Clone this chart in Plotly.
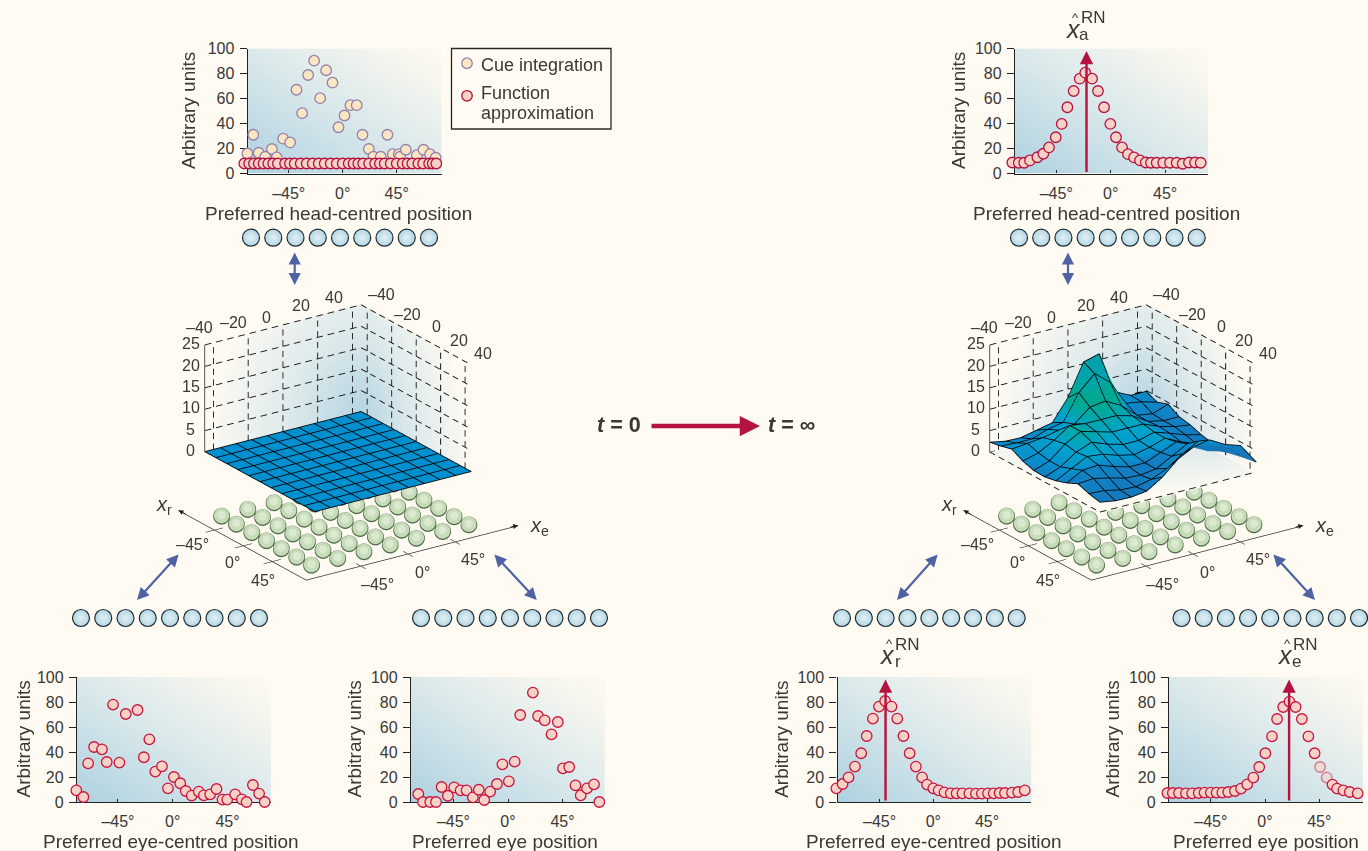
import numpy as np
import plotly.graph_objects as go

W, H = 1368, 851
BG = "#fffbf3"
INK = "#3a3836"
FONT = "Liberation Sans, Arial, sans-serif"
RED = "#b5123f"
PINK = "#f6d2c6"
CUE_FILL = "#fbe6c4"
CUE_LINE = "#9580ab"
BLUE_ARROW = "#4d63a3"

# ---------- panel data (degrees, arbitrary units) ----------
cue_x = [-79.5,-74.5,-70,-64.5,-59,-55,-49.6,-43.8,-38.5,-33.8,-28.8,-23.8,-18.8,-13.8,-8.5,-3.5,1.5,6.5,11.7,16.5,21.8,25.6,31.7,37.3,41.7,46.7,47.8,52.6,61.8,67.3,72.8,77.5]
cue_y = [16,31,16.6,13.4,19.6,12.9,27.9,24.9,67,48.3,78.8,90.3,60.3,82.6,72.7,37,46.4,54.7,54.7,31,19.6,13.4,13.4,31,15.5,15.5,13.4,19,14.7,19,15.5,12.6]
flat_x = [-82,-78,-74,-70,-66,-62,-58,-54,-48,-44,-40,-35,-30,-25,-20,-15,-10,-5,0,5,9,13,17,22,27,31,35,40,45,50,54,58,63,67,72,75,78]
flat_y = [8]*37
top_fa_x = [-81.3,-76,-71.5,-66.7,-60.6,-55.7,-51,-45.4,-40.5,-35.8,-30.6,-25.6,-21,-15.4,-10.5,-5.5,-0.3,4.4,9.4,14.3,19.3,24.2,29,33.3,38,43.4,49,54.5,59.5,64.7,69.7,74.4]
top_fa_y = [8.8,8.6,8.6,10.5,13,15.8,20.9,29,39.7,53,66,75.9,80.7,75.9,66,53,39.7,29,20.9,15.5,12.9,10.5,8.8,8.6,8.6,8.6,8.6,8.6,7.8,8.8,8.8,8.6]
retina_x = [-79.2,-73.4,-69.5,-64.6,-58.1,-54.2,-49,-43.8,-38.6,-28.9,-23.7,-19.2,-14.3,-8.8,-3.9,1,6.2,10.7,15.6,21.4,25.6,30.8,36,40.9,44.8,51.3,56.8,60.7,65.9,71,75.6]
retina_y = [9.3,4,30.9,44,42.1,32,77.9,31.5,70.4,73.6,35.8,50.1,24.3,28.5,10.9,20,15,8.8,5.1,8.3,5.3,6.1,10.4,1.9,1.9,6.1,2.1,0,13.6,6.7,0]
eye_x = [-74,-70.1,-64.2,-59.4,-54.8,-49.6,-44.4,-39.1,-34.2,-29,-24.1,-19.6,-14.7,-9.1,-4.6,0.7,5.5,10.1,20.5,24.8,30.3,35.9,41.1,45.3,50.5,55.7,60,65.2,71,75.3]
eye_y = [6.4,0,0,0,12,5,11.7,9.3,9.3,3.7,9.8,1.6,8.3,14.4,30.1,16.5,32.3,69.6,87.5,68.8,65.3,54.1,64,26.9,28,13.3,5.3,10.9,14.1,0]
ret_fa_x = [-81.2,-76,-71,-65.6,-60.4,-55.8,-50.6,-45.5,-40.3,-35,-30.2,-25,-19.8,-14.6,-9.4,-5.2,0,4.5,9.4,14.6,19.5,24.4,30.2,35.7,40.6,45.8,50.6,55.5,60,65.9,71.1,76.6]
ret_fa_y = [10.9,14.4,19.7,28.3,39,52.8,66.7,76.3,80.8,76.3,66.7,52.8,39,28.3,19.7,13.9,10.9,9.3,7.7,6.9,6.9,6.9,6.9,6.7,6.7,6.9,6.9,7.2,7.2,7.5,8,9.3]
eye_fa_x = [-81,-76.5,-71.4,-65.6,-60.5,-55,-50.2,-45,-40.2,-35.4,-30.5,-25,-19.9,-14.8,-9.7,-4.8,0.3,5.8,10,15.1,20.3,25.4,30.6,36,41.2,45.7,51.2,56,59.8,65,70.4,76.9]
eye_fa_y = [7.2,7.2,7.2,6.9,6.9,7.2,7.5,7.5,7.5,7.5,8,8.8,10.7,14.1,19.5,28,39,52.5,66.4,76,80.3,76,66.4,52.5,39,28,19.5,13.9,10.7,9.3,8,6.9]

x_ticks = [-45, 0, 45]
x_labels = ["–45°", "0°", "45°"]
y_ticks = [0, 20, 40, 60, 80, 100]

# ---------- surface data: rows = x_r, columns = x_e ----------
mesh_axis = [-45,-36,-27,-18,-9,0,9,18,27,36,45]
flat_surface = [[0.0]*11 for _ in range(11)]
learned_surface = [
 [2.2,1.5,1.4,2.2,3.0,7.9,15.3,16.3,6.5,4.7,4.7],
 [2.7,2.5,2.5,3.8,4.5,10.5,14.0,11.0,5.2,4.6,3.6],
 [3.4,3.8,4.2,5.0,5.5,8.5,9.0,7.0,3.8,3.2,4.5],
 [2.0,3.0,5.0,7.5,7.0,7.0,7.0,6.0,3.8,3.0,3.0],
 [1.2,2.5,5.5,7.5,6.5,5.5,5.5,5.5,4.0,3.0,2.5],
 [1.1,2.5,5.0,6.4,5.0,4.0,4.0,5.0,3.8,2.5,1.6],
 [1.6,3.5,5.4,5.0,3.8,3.0,3.8,5.0,3.2,1.8,1.0],
 [2.5,4.5,4.8,3.5,2.5,2.5,4.0,5.5,3.5,1.6,0.6],
 [3.7,4.0,3.2,2.2,2.0,2.5,4.5,6.5,5.0,3.5,1.2],
 [2.8,2.6,1.8,1.6,2.4,4.0,6.5,8.5,6.5,5.0,1.8],
 [2.2,1.6,1.5,2.0,4.3,7.6,9.5,10.2,8.2,7.0,2.2],
]
wall_ticks = [-40,-20,0,20,40]
z_ticks = [0,5,10,15,20,25]
dot_xr = [-70,-47,-23,0,23,47,70]
dot_xe = [-75,-50,-25,0,25,50,75]
neurons = list(range(9))
legend_rows = [1, 0]

# ---------- helpers ----------
def fx(px): return px / W
def fy(py): return 1 - py / H

fig = go.Figure()
layout = dict(
    width=W, height=H, margin=dict(l=0, r=0, t=0, b=0, pad=0, autoexpand=False), autosize=False,
    paper_bgcolor=BG, plot_bgcolor="rgba(0,0,0,0)", font=dict(family=FONT, color=INK, size=16),
    showlegend=False, hovermode=False,
)
annotations = []
shapes = []
next_axis = [1]
overlay = {}

def note(px, py, text, size=16.5, angle=0, xanchor="center"):
    annotations.append(dict(xref="paper", yref="paper", x=fx(px), y=fy(py), text=text, showarrow=False,
                            textangle=angle, font=dict(size=size, color=INK), xanchor=xanchor, yanchor="middle"))

def new_axes(box, xr, yr, visible=True):
    n = next_axis[0]; next_axis[0] += 1
    l, r, t, b = box
    common = dict(showgrid=False, zeroline=False, fixedrange=True)
    layout[f"xaxis{n}"] = dict(domain=[fx(l), fx(r)], range=xr, anchor=f"y{n}", visible=visible, **common)
    layout[f"yaxis{n}"] = dict(domain=[fy(b), fy(t)], range=yr, anchor=f"x{n}", visible=visible, **common)
    return n

def panel(box, zero_px, deg_px, xtitle, xtitle_px, ytitle_px, bottom_title_py):
    l, r, t, b = box
    xr = [(l - zero_px) / deg_px, (r - zero_px) / deg_px]
    n = new_axes(box, xr, [0, 100])
    layout[f"xaxis{n}"].update(tickmode="array", tickvals=x_ticks, ticktext=x_labels, ticks="inside", ticklen=3,
                               tickwidth=1, tickcolor="#222", showline=True, linecolor="#222", linewidth=1.3,
                               tickfont=dict(size=16, color=INK), layer="above traces", ticklabelstandoff=5)
    layout[f"yaxis{n}"].update(tickmode="array", tickvals=y_ticks, ticks="outside", ticklen=7, tickwidth=1,
                               tickcolor="#222", showline=True, linecolor="#222", linewidth=1.3,
                               tickfont=dict(size=16, color=INK), layer="above traces", ticklabelstandoff=2)
    gx = np.linspace(xr[0], xr[1], 25)
    gy = np.linspace(0, 100, 25)
    u, v = np.meshgrid((gx - xr[0]) / (xr[1] - xr[0]), gy / 100)
    fig.add_trace(go.Heatmap(x=gx, y=gy, z=(u + v) / 2, zmin=0, zmax=1, zsmooth="best", showscale=False,
                             hoverinfo="skip", xaxis=f"x{n}", yaxis=f"y{n}", showlegend=False,
                             colorscale=[[0, "#aed1e0"], [0.5, "#dbe9eb"], [0.85, "#f6f6ee"], [1, "#fdfaf2"]]))
    note(xtitle_px, bottom_title_py, xtitle, size=19)
    note(ytitle_px, (t + b) / 2, "Arbitrary units", size=19, angle=-90)
    # same scale, slightly wider hidden axes so markers on the frame edge are kept
    pad = 4.0
    per_y = 100 / (b - t)
    overlay[n] = new_axes((l - pad, r + pad, t - pad, b + pad),
                          [xr[0] - pad / deg_px, xr[1] + pad / deg_px],
                          [-pad * per_y, 100 + pad * per_y], visible=False)
    return n

def points(n, xs, ys, fill, line, name=None, opacity=None):
    a = overlay.get(n, n)
    fig.add_trace(go.Scatter(x=xs, y=ys, mode="markers", xaxis=f"x{a}", yaxis=f"y{a}", name=name or "",
                             showlegend=False, cliponaxis=False, hoverinfo="skip",
                             marker=dict(size=10.5, color=fill, opacity=opacity if opacity else 1,
                                         line=dict(color=line, width=1.3))))

def rise_arrow(n, xval):
    annotations.append(dict(xref=f"x{n}", yref=f"y{n}", axref=f"x{n}", ayref=f"y{n}", x=xval, y=98, ax=xval, ay=0,
                            text="", showarrow=True, arrowhead=2, arrowsize=1.1, arrowwidth=2.4, arrowcolor=RED))

def hat_label(px, py, sub, sub_dy):
    note(px, py, "<i>x</i>", size=25)
    note(px + 2, py - 12, "^", size=13)
    note(px + 11, py + sub_dy, sub, size=17)
    note(px + 20, py - 11, "RN", size=17)

def neuron_row(x0, x8, y):
    step = (x8 - x0) / 8
    pad = 8.5
    n = new_axes((x0 - pad, x8 + pad, y - 12, y + 12), [-pad / step, 8 + pad / step], [-1, 1], visible=False)
    fig.add_trace(go.Scatter(x=neurons, y=[0] * 9, mode="markers", xaxis=f"x{n}", yaxis=f"y{n}", showlegend=False,
                             hoverinfo="skip", cliponaxis=False,
                             marker=dict(size=17, color="#b3d6e5", gradient=dict(type="radial", color="#e2f0f3"),
                                         line=dict(color="#1f2a30", width=1.2))))

def double_arrow(x1, y1, x2, y2):
    annotations.append(dict(xref="paper", yref="paper", x=fx(x2), y=fy(y2),
                            ax=x1 - x2, ay=y1 - y2, text="", showarrow=True, arrowhead=2, startarrowhead=2,
                            arrowside="end+start", arrowsize=1.1, startarrowsize=1.1, arrowwidth=2.2,
                            arrowcolor=BLUE_ARROW))

# ---------- the 3D blocks ----------
SPAN = 45
AX_RANGE = 100
Z_RANGE = 40
EYE_R = 2.0
ZOOM = 2.24
EYE = np.array([0.7645, -0.5247, 0.374])
KX, KY, OX, OY, PLANE_Z = 0.525, 0.604, 17.0, -7.9, -10.0
XR_AXIS = (98, -101)
XE_AXIS = (-97, 105)
COLD = [[0, "#b7d5e2"], [0.45, "#dce9eb"], [1, "#fdfaf2"]]

def dash_run(xs, ys, zs, p, q, n):
    """Break the straight run p->q into n short strokes."""
    for k in range(n):
        a = k / n
        b = (k + 0.58) / n
        for c, arr in zip(range(3), (xs, ys, zs)):
            arr += [p[c] + (q[c] - p[c]) * a, p[c] + (q[c] - p[c]) * b, None]

def dashed(scene, xs, ys, zs, color="#111111"):
    fig.add_trace(go.Scatter3d(x=xs, y=ys, z=zs, mode="lines", scene=scene, showlegend=False, hoverinfo="skip",
                               line=dict(color=color, width=1.8)))

def block(scene, surface, tone, cscale, cmin, cmax, box, with_floor):
    l, r, t, b = box
    layout[scene] = dict(
        domain=dict(x=[fx(l), fx(r)], y=[fy(b), fy(t)]), bgcolor="rgba(0,0,0,0)",
        xaxis=dict(visible=False, range=[-AX_RANGE, AX_RANGE]),
        yaxis=dict(visible=False, range=[-AX_RANGE, AX_RANGE]),
        zaxis=dict(visible=False, range=[-Z_RANGE, Z_RANGE]),
        aspectmode="manual", aspectratio=dict(x=1.17 * ZOOM, y=1.14 * ZOOM, z=1.0 * ZOOM),
        camera=dict(eye=dict(x=EYE[0] * EYE_R, y=EYE[1] * EYE_R, z=EYE[2] * EYE_R), center=dict(x=0, y=0, z=0),
                    up=dict(x=0, y=0, z=1), projection=dict(type="orthographic")),
        dragmode=False,
    )
    # walls
    s = np.linspace(-SPAN, SPAN + 0.7, 31)
    s2 = np.linspace(-SPAN - 0.7, SPAN, 31)
    h = np.linspace(0, 25, 15)
    S, Z = np.meshgrid(s, h)
    S2, Z2 = np.meshgrid(s2, h)
    shade1 = np.sqrt(((SPAN - S) / 90) ** 2 + (Z / 25) ** 2 * 0.35)
    shade2 = np.sqrt(((S2 + SPAN) / 90) ** 2 + (Z2 / 25) ** 2 * 0.35)
    flat = dict(ambient=1, diffuse=0, specular=0, roughness=1, fresnel=0)
    off = dict(x=dict(highlight=False), y=dict(highlight=False), z=dict(highlight=False))
    fig.add_trace(go.Surface(x=np.full_like(S, -SPAN - 0.6), y=S, z=Z, surfacecolor=shade1, cmin=0, cmax=1, colorscale=COLD,
                             showscale=False, hoverinfo="skip", scene=scene, lighting=flat, contours=off))
    fig.add_trace(go.Surface(x=S2, y=np.full_like(S2, SPAN + 0.6), z=Z2, surfacecolor=shade2, cmin=0, cmax=1, colorscale=COLD,
                             showscale=False, hoverinfo="skip", scene=scene, lighting=flat, contours=off))
    if with_floor:
        fl = np.linspace(-SPAN, SPAN, 31)
        FX, FY = np.meshgrid(fl, fl)
        shade3 = np.sqrt(((FX + SPAN) / 90) ** 2 + ((SPAN - FY) / 90) ** 2) * 0.9
        fig.add_trace(go.Surface(x=FX, y=FY, z=np.full_like(FX, -0.3), surfacecolor=shade3, cmin=0, cmax=1, colorscale=COLD,
                                 showscale=False, hoverinfo="skip", scene=scene, lighting=flat, contours=off))
    # dashed wall grid
    xs, ys, zs = [], [], []
    for t_ in wall_ticks:
        dash_run(xs, ys, zs, (-SPAN, t_, 0), (-SPAN, t_, 25), 10)
        dash_run(xs, ys, zs, (t_, SPAN, 0), (t_, SPAN, 25), 10)
    for zv in z_ticks[1:]:
        dash_run(xs, ys, zs, (-SPAN, -SPAN, zv), (-SPAN, SPAN, zv), 14)
        dash_run(xs, ys, zs, (-SPAN, SPAN, zv), (SPAN, SPAN, zv), 12)
    if with_floor:
        dash_run(xs, ys, zs, (-SPAN, -SPAN, 0), (SPAN, -SPAN, 0), 12)
        dash_run(xs, ys, zs, (SPAN, -SPAN, 0), (SPAN, SPAN, 0), 14)
    dashed(scene, xs, ys, zs)
    # z axis
    fig.add_trace(go.Scatter3d(x=[-SPAN, -SPAN], y=[-SPAN, -SPAN], z=[0, 25], mode="lines", scene=scene, showlegend=False,
                               hoverinfo="skip", line=dict(color="#222", width=1.6)))
    tx, ty, tz = [], [], []
    for zv in z_ticks:
        tx += [-SPAN, -SPAN, None]; ty += [-SPAN, -SPAN + 3, None]; tz += [zv, zv, None]
    fig.add_trace(go.Scatter3d(x=tx, y=ty, z=tz, mode="lines", scene=scene, showlegend=False, hoverinfo="skip",
                               line=dict(color="#222", width=1.2)))
    # surface (plotly wants rows along y, so x_r rows are transposed)
    fig.add_trace(go.Surface(x=mesh_axis, y=mesh_axis, z=np.array(surface).T, surfacecolor=np.array(tone).T,
                             cmin=cmin, cmax=cmax,
                             colorscale=cscale, showscale=False, hoverinfo="skip", scene=scene, lighting=flat,
                             contours=off))
    # crisp black mesh, following the same surface values
    zgrid = np.array(surface, dtype=float) + 0.1
    mx, my, mz = [], [], []
    for i, xv in enumerate(mesh_axis):
        mx += [xv] * 11 + [None]; my += list(mesh_axis) + [None]; mz += list(zgrid[i, :]) + [None]
    for j, yv in enumerate(mesh_axis):
        mx += list(mesh_axis) + [None]; my += [yv] * 11 + [None]; mz += list(zgrid[:, j]) + [None]
    fig.add_trace(go.Scatter3d(x=mx, y=my, z=mz, mode="lines", scene=scene, showlegend=False, hoverinfo="skip",
                               line=dict(color="#05090c", width=1.8)))
    # lower sheet of neurons: dark rim, fill, pale centre
    gx, gy = np.meshgrid(dot_xr, dot_xe)
    px3 = OX + KX * gx.ravel()
    py3 = OY + KY * gy.ravel()
    for dz, size, colour in ((-0.12, 9.8, "#4d6a48"), (0.0, 8.9, "#c6dbb8"), (0.12, 4.8, "#dbe9d0")):
        fig.add_trace(go.Scatter3d(x=px3, y=py3, z=np.full_like(px3, PLANE_Z + dz), mode="markers", scene=scene,
                                   showlegend=False, hoverinfo="skip", marker=dict(size=size, color=colour)))
    # sheet axes
    corner_x = OX + KX * XR_AXIS[0]
    corner_y = OY + KY * XE_AXIS[0]
    end_x = OX + KX * XR_AXIS[1]
    end_y = OY + KY * XE_AXIS[1]
    fig.add_trace(go.Scatter3d(x=[end_x, corner_x, corner_x], y=[corner_y, corner_y, end_y], z=[PLANE_Z] * 3, mode="lines",
                               scene=scene, showlegend=False, hoverinfo="skip", line=dict(color="#222", width=1.3)))
    lx, ly, lz = [], [], []
    anns = []
    lab = dict(size=16, color=INK)
    for val, txt, sx, sy in zip(x_ticks, x_labels, (-22, -11, -9), (-15, -17, -19)):
        cx = OX + KX * val
        lx += [cx, cx, None]; ly += [corner_y - 5, corner_y + 5, None]; lz += [PLANE_Z, PLANE_Z, None]
        anns.append(dict(x=cx, y=corner_y, z=PLANE_Z, text=txt, showarrow=False, xshift=sx, yshift=sy, font=lab))
    for val, txt, sx, sy in zip(x_ticks, x_labels, (17, 14, 18), (-19, -19, -18)):
        cy = OY + KY * val
        lx += [corner_x - 4, corner_x + 4, None]; ly += [cy, cy, None]; lz += [PLANE_Z, PLANE_Z, None]
        anns.append(dict(x=corner_x, y=cy, z=PLANE_Z, text=txt, showarrow=False, xshift=sx, yshift=sy, font=lab))
    fig.add_trace(go.Scatter3d(x=lx, y=ly, z=lz, mode="lines", scene=scene, showlegend=False, hoverinfo="skip",
                               line=dict(color="#222", width=1.1)))
    anns.append(dict(x=end_x, y=corner_y, z=PLANE_Z, text="", showarrow=True, ax=9, ay=5, arrowhead=2, arrowsize=1,
                     arrowwidth=1, arrowcolor="#222"))
    anns.append(dict(x=corner_x, y=end_y, z=PLANE_Z, text="", showarrow=True, ax=-9, ay=2, arrowhead=2, arrowsize=1,
                     arrowwidth=1, arrowcolor="#222"))
    big = dict(size=20, color=INK)
    anns.append(dict(x=end_x, y=corner_y, z=PLANE_Z, text="<i>x</i><sub>r</sub>", showarrow=False, xshift=-14, yshift=5, font=big))
    anns.append(dict(x=corner_x, y=end_y, z=PLANE_Z, text="<i>x</i><sub>e</sub>", showarrow=False, xshift=21, yshift=-1, font=big))
    # wall labels
    for val, sx, sy in zip(wall_ticks, (-14, -15, -16, -17, -18), (15, 11, 7, 10, 9)):
        anns.append(dict(x=-SPAN, y=val, z=25, text=str(val).replace("-", "–"), showarrow=False, xshift=sx, yshift=sy, font=lab))
    for val, sx, sy in zip(wall_ticks, (14, 16, 20, 18, 18), (13, 7, 8, 7, 8)):
        anns.append(dict(x=val, y=SPAN, z=25, text=str(val).replace("-", "–"), showarrow=False, xshift=sx, yshift=sy, font=lab))
    for val in z_ticks:
        anns.append(dict(x=-SPAN, y=-SPAN, z=val, text=str(val), showarrow=False, xshift=-14, yshift=1, font=lab))
    layout[scene]["annotations"] = anns

# ---------- build ----------
P = {}
P["top_l"] = panel((247.7, 441.7, 48.5, 173.5), 342.7, 1.2, "Preferred head-centred position", 338, 188, 213)
P["top_r"] = panel((1015, 1208.3, 48.5, 173.5), 1110.7, 1.21, "Preferred head-centred position", 1106, 958, 213)
P["ret_l"] = panel((77, 271, 677, 802), 172.7, 1.217, "Preferred eye-centred position", 170.5, 23, 841)
P["eye_l"] = panel((411, 604.7, 677, 802), 508, 1.212, "Preferred eye position", 505, 354, 841)
P["ret_r"] = panel((837.5, 1031.4, 677, 802), 933.3, 1.194, "Preferred eye-centred position", 933.5, 781.3, 841)
P["eye_r"] = panel((1169, 1363, 677, 802), 1265, 1.205, "Preferred eye position", 1266, 1112, 841)

points(P["top_l"], cue_x, cue_y, CUE_FILL, CUE_LINE, name="Cue integration")
points(P["top_l"], flat_x, flat_y, PINK, RED, name="Function approximation")
points(P["top_r"], top_fa_x, top_fa_y, PINK, RED)
points(P["ret_l"], retina_x, retina_y, PINK, "#c9143f")
points(P["eye_l"], eye_x, eye_y, PINK, "#c9143f")
points(P["ret_r"], ret_fa_x, ret_fa_y, PINK, "#c9143f")
points(P["eye_r"], eye_fa_x, eye_fa_y, PINK, "#c9143f",
       opacity=[0.55 if 44 < v < 53 else 1 for v in eye_fa_x])

# legend key
shapes.append(dict(type="rect", xref="paper", yref="paper", x0=fx(451.5), x1=fx(611), y0=fy(129), y1=fy(48.5),
                   line=dict(color="#2a2826", width=1.3), fillcolor=BG, layer="below"))
key = new_axes((458, 476, 58, 101), [-1, 1], [-0.16, 1.16], visible=False)
points(key, [0], [legend_rows[0]], CUE_FILL, CUE_LINE)
points(key, [0], [legend_rows[1]], PINK, RED)
note(479, 65, "Cue integration", size=18, xanchor="left")
note(479, 93, "Function", size=18, xanchor="left")
note(479, 113, "approximation", size=18, xanchor="left")

rise_arrow(P["top_r"], -20)
rise_arrow(P["ret_r"], -40)
rise_arrow(P["eye_r"], 20)
hat_label(1073, 29, "a", 6)
hat_label(887, 655, "r", 6)
hat_label(1285, 655, "e", 6)

for row in [(251, 429, 237.7), (1019, 1196.7, 237.7), (81, 259, 618), (421, 599, 618), (842, 1016.7, 618), (1181.5, 1359, 618)]:
    neuron_row(*row)

for a in [(294.7, 251, 294.7, 285), (1068, 251, 1068, 285), (180, 553, 137, 600), (493, 553, 536.7, 600),
          (939, 553, 897, 600), (1272, 553, 1315, 600)]:
    double_arrow(*a)

flat_scale = [[0, "#0090cf"], [1, "#0090cf"]]
learned_scale = [[0, "#1872b8"], [0.15, "#0a8fce"], [0.33, "#00a4cc"], [0.5, "#00a99a"], [0.62, "#00a890"],
                 [0.8, "#00a5b0"], [1, "#00a0ab"]]
# the ridge on the far side and the x_e plateau stay blue in the original, so colour is damped there
learned_tone = np.array(learned_surface, dtype=float)
learned_tone[7:, :] *= 0.35
learned_tone[:, 8:] *= 0.4
block("scene", flat_surface, flat_surface, flat_scale, 0, 1, (128, 548, 296.7, 626.7), False)
block("scene2", learned_surface, learned_tone, learned_scale, 0, 16, (913, 1333, 296.7, 626.7), True)

# t = 0 -> t = inf arrow
annotations.append(dict(xref="paper", yref="paper", x=fx(760), y=fy(426), ax=-110, ay=0,
                        text="", showarrow=True, arrowhead=2, arrowsize=0.9, arrowwidth=4.5, arrowcolor=RED))
note(619, 425, "<b><i>t</i> = 0</b>", size=21.5)
note(791, 425, "<b><i>t</i> = ∞</b>", size=21.5)

layout["annotations"] = annotations
layout["shapes"] = shapes
fig.update_layout(**layout)

post = f"document.body.style.margin='0';document.body.style.background='{BG}';"
fig.write_html("out.html", config=dict(displayModeBar=False, staticPlot=False), post_script=post)
